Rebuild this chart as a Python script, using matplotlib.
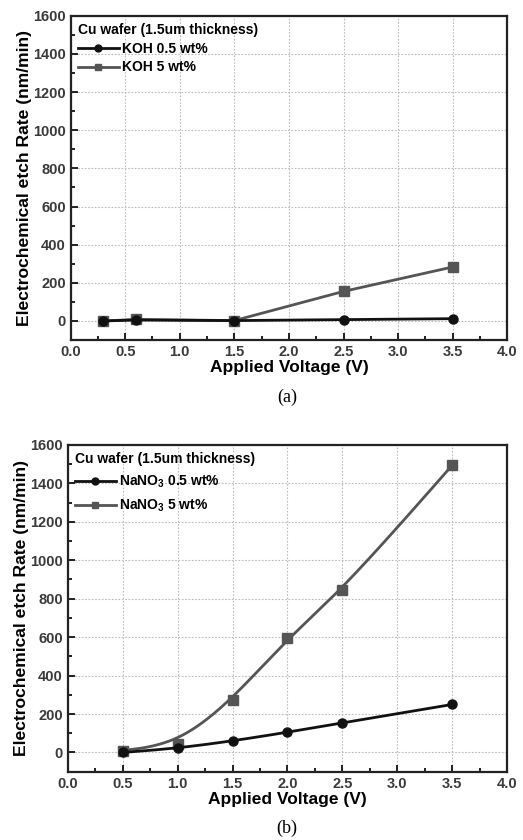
import numpy as np
import matplotlib
matplotlib.use("Agg")
import matplotlib.pyplot as plt
from matplotlib.ticker import MultipleLocator

plt.rcParams['font.family'] = ['Liberation Sans', 'DejaVu Sans']
plt.rcParams['mathtext.fontset'] = 'custom'
plt.rcParams['mathtext.rm'] = 'Liberation Sans:bold'
plt.rcParams['mathtext.default'] = 'rm'

# Panel (a) data
koh_v = [0.3, 0.6, 1.5, 2.5, 3.5]
koh_05 = [0, 5, 2, 7, 12]
koh_5 = [0, 8, 2, 155, 283]

# Panel (b) data
nano3_v = [0.5, 1.0, 1.5, 2.0, 2.5, 3.5]
nano3_05 = [0, 22, 60, 105, 155, 250]
nano3_5 = [10, 45, 275, 595, 845, 1495]

xticks = [0.0, 0.5, 1.0, 1.5, 2.0, 2.5, 3.0, 3.5, 4.0]
yticks = [0, 200, 400, 600, 800, 1000, 1200, 1400, 1600]

legend_title = "Cu wafer (1.5um thickness)"
labels_a = ["KOH 0.5 wt%", "KOH 5 wt%"]
labels_b = [r"NaNO$_3$ 0.5 wt%", r"NaNO$_3$ 5 wt%"]
xlabel = "Applied Voltage (V)"
ylabel = "Electrochemical etch Rate (nm/min)"

BLACK = "#111111"
GRAY = "#555555"


def bspline(x, y, n=60):
    """Clamped uniform cubic B-spline with the data points as control points
    (smoothed connecting line, as drawn by the original plotting program)."""
    P = np.column_stack([x, y]).astype(float)
    P = np.vstack([P[0], P[0], P, P[-1], P[-1]])
    t = np.linspace(0, 1, n)
    B = np.column_stack([(1 - t) ** 3, 3 * t ** 3 - 6 * t ** 2 + 4,
                         -3 * t ** 3 + 3 * t ** 2 + 3 * t + 1, t ** 3]) / 6.0
    segs = [B @ P[i:i + 4] for i in range(len(P) - 3)]
    out = np.vstack(segs)
    return out[:, 0], out[:, 1]


fig = plt.figure(figsize=(5.23, 8.4), dpi=100)
ax1 = fig.add_axes([0.135, 0.5952, 0.835, 0.386])
ax2 = fig.add_axes([0.1294, 0.0813, 0.8405, 0.389])


def style(ax):
    ax.set_xlim(0, 4.0)
    ax.set_ylim(-100, 1600)
    ax.set_xticks(xticks)
    ax.set_yticks(yticks)
    ax.xaxis.set_minor_locator(MultipleLocator(0.25))
    ax.yaxis.set_minor_locator(MultipleLocator(100))
    ax.set_xticklabels([f"{v:.1f}" for v in xticks])
    ax.set_yticklabels([str(v) for v in yticks])
    ax.tick_params(which='both', direction='in', top=False, right=False,
                   colors=BLACK, labelcolor='#3a3a3a', labelsize=10.5, width=1.3)
    ax.tick_params(which='major', length=5)
    ax.tick_params(which='minor', length=3)
    for lab in ax.get_xticklabels() + ax.get_yticklabels():
        lab.set_fontweight('bold')
    for s in ax.spines.values():
        s.set_linewidth(1.6)
        s.set_color('#222222')
    ax.grid(True, which='major', linestyle=(0, (1.5, 1.5)), color='#bbbbbb', linewidth=0.8)
    ax.set_axisbelow(True)
    ax.set_xlabel(xlabel, fontsize=12.5, fontweight='bold', labelpad=1)
    ax.set_ylabel(ylabel, fontsize=12.6, fontweight='bold', labelpad=1)


# Panel (a)
style(ax1)
l2, = ax1.plot(koh_v, koh_5, color=GRAY, lw=2, marker='s', ms=6.5, label=labels_a[1])
l1, = ax1.plot(koh_v, koh_05, color=BLACK, lw=2, marker='o', ms=6.5, label=labels_a[0])
h1a = plt.Line2D([], [], color=BLACK, lw=2, marker='o', ms=5)
h2a = plt.Line2D([], [], color=GRAY, lw=2, marker='s', ms=5)
leg1 = ax1.legend(handles=[h1a, h2a], labels=labels_a, title=legend_title, loc='upper left',
                  frameon=False, prop={'weight': 'bold', 'size': 10}, handlelength=3.0,
                  handletextpad=0.2, labelspacing=0.35, borderaxespad=0.3, borderpad=0.2,
                  title_fontproperties={'weight': 'bold', 'size': 10})
leg1._legend_box.align = 'left'

# Panel (b)
style(ax2)
sx, sy = bspline(nano3_v, nano3_5)
ax2.plot(sx, sy, color=GRAY, lw=2)
ax2.plot(nano3_v, nano3_5, color=GRAY, lw=0, marker='s', ms=6.5)
sx0, sy0 = bspline(nano3_v, nano3_05)
ax2.plot(sx0, sy0, color=BLACK, lw=2)
ax2.plot(nano3_v, nano3_05, color=BLACK, lw=0, marker='o', ms=6.5)
h1 = plt.Line2D([], [], color=BLACK, lw=2, marker='o', ms=5)
h2 = plt.Line2D([], [], color=GRAY, lw=2, marker='s', ms=5)
leg2 = ax2.legend(handles=[h1, h2], labels=labels_b, title=legend_title, loc='upper left',
                  frameon=False, prop={'weight': 'bold', 'size': 10}, handlelength=3.0,
                  handletextpad=0.2, labelspacing=0.55, borderaxespad=0.3, borderpad=0.2,
                  title_fontproperties={'weight': 'bold', 'size': 10})
leg2._legend_box.align = 'left'

fig.text(0.549, 1 - 397 / 840, "(a)", ha='center', va='center', fontsize=13,
         family=['Liberation Serif'])
fig.text(0.549, 1 - 828 / 840, "(b)", ha='center', va='center', fontsize=13,
         family=['Liberation Serif'])

fig.savefig("out.png", dpi=100)
